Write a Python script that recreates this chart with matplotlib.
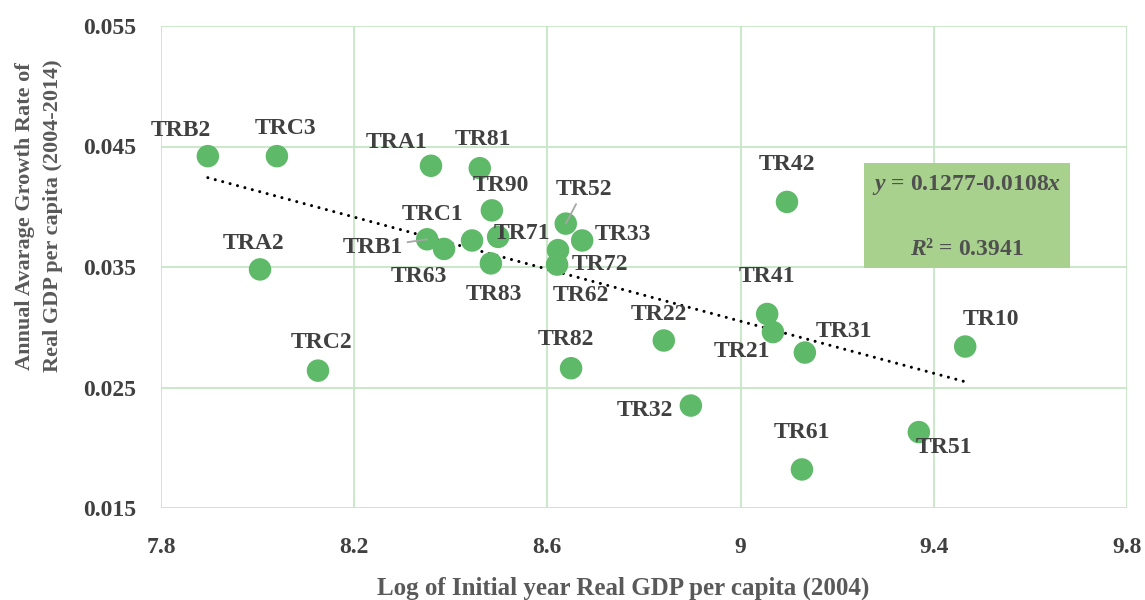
import matplotlib
matplotlib.use('Agg')
import matplotlib.pyplot as plt
from matplotlib.patches import Rectangle

plt.rcParams['font.family'] = 'Liberation Serif'
plt.rcParams['font.weight'] = 'bold'
plt.rcParams['mathtext.fontset'] = 'custom'
plt.rcParams['mathtext.it'] = 'Liberation Serif:bold:italic'
plt.rcParams['mathtext.rm'] = 'Liberation Serif:bold'

# regions, log initial GDP (2004), avg growth 2004-2014
regions = ['TRB2', 'TRC3', 'TRA1', 'TR81', 'TR90', 'TRB1', 'TR63', 'TRC1',
           'TR71', 'TR83', 'TR52', 'TR33', 'TR72', 'TR62', 'TR42', 'TR41',
           'TR21', 'TR31', 'TR10', 'TR82', 'TR22', 'TR32', 'TR61', 'TR51',
           'TRA2', 'TRC2']
log_gdp = [7.897, 8.040, 8.359, 8.460, 8.485, 8.351, 8.386, 8.444,
           8.498, 8.483, 8.638, 8.672, 8.622, 8.620, 9.096, 9.055,
           9.067, 9.133, 9.465, 8.649, 8.841, 8.897, 9.127, 9.369,
           8.005, 8.125]
growth = [0.0442, 0.0442, 0.0434, 0.0432, 0.0397, 0.0373, 0.0365, 0.0372,
          0.0375, 0.0353, 0.0386, 0.0372, 0.0364, 0.0352, 0.0404, 0.0311,
          0.0296, 0.0279, 0.0284, 0.0266, 0.0289, 0.0235, 0.0182, 0.0213,
          0.0348, 0.0264]

# trend line coefficients (as printed on the chart)
intercept = 0.1277
slope = -0.0108
r2 = 0.3941

x_ticks = [7.8, 8.2, 8.6, 9.0, 9.4, 9.8]
x_tick_labels = ['7.8', '8.2', '8.6', '9', '9.4', '9.8']
y_ticks = [0.015, 0.025, 0.035, 0.045, 0.055]
y_tick_labels = ['0.015', '0.025', '0.035', '0.045', '0.055']

# label offsets in pixels (dx right, dy up)
label_off = {
    'TRB2': (-27, 26), 'TRC3': (9, 28), 'TRA1': (-34, 23), 'TR81': (3, 29),
    'TR90': (9, 25), 'TRB1': (-54, -8), 'TR63': (-25, -28), 'TRC1': (-39, 26),
    'TR71': (24, 3), 'TR83': (3, -31), 'TR52': (18, 34), 'TR33': (41, 6),
    'TR72': (42, -14), 'TR62': (24, -31), 'TR42': (0, 37), 'TR41': (0, 37),
    'TR21': (-31, -19), 'TR31': (39, 21), 'TR10': (26, 27), 'TR82': (-5, 29),
    'TR22': (-5, 26), 'TR32': (-46, -5), 'TR61': (0, 37), 'TR51': (25, -15),
    'TRA2': (-7, 26), 'TRC2': (4, 28),
}
leaders = ['TRB1', 'TR52']

txt = '#404040'
grid_c = '#c6e6c6'
dot_c = '#5eb968'

fig = plt.figure(figsize=(11.45, 6), dpi=100)
ax = fig.add_axes([161 / 1145, 1 - 508 / 600, 966 / 1145, 482 / 600])

ax.set_xlim(7.8, 9.8)
ax.set_ylim(0.015, 0.055)
ax.set_xticks(x_ticks, x_tick_labels)
ax.set_yticks(y_ticks, y_tick_labels)
ax.grid(True, color=grid_c, lw=1.3)
ax.set_axisbelow(True)
for s in ax.spines.values():
    s.set_visible(False)
ax.tick_params(length=0, colors=txt, labelsize=17)
ax.tick_params(axis='x', pad=21)
ax.tick_params(axis='y', pad=18)

# trend line
x0, x1 = min(log_gdp), max(log_gdp)
ax.plot([x0, x1], [intercept + slope * x0, intercept + slope * x1],
        color='black', lw=2.2, linestyle=(0, (0.01, 2.5)),
        dash_capstyle='round', zorder=3)

ax.scatter(log_gdp, growth, s=262, color=dot_c, edgecolors='none', zorder=4)

for name, xv, yv in zip(regions, log_gdp, growth):
    dx, dy = label_off[name]
    kw = {}
    if name in leaders:
        kw['arrowprops'] = dict(arrowstyle='-', color='#a6a6a6', lw=1.3,
                                shrinkA=1, shrinkB=0)
    ax.annotate(name, (xv, yv), xytext=(dx * 0.72, dy * 0.72),
                textcoords='offset points', ha='center', va='center',
                fontsize=17, color=txt, zorder=5, **kw)

# equation box
ax.add_patch(Rectangle((0.728, 0.498), 0.213, 0.218, transform=ax.transAxes,
                       facecolor='#a9d18e', edgecolor='none', zorder=2))
ax.text(0.834, 0.670, '$y$ = %.4f%.4f$x$' % (intercept, slope),
        transform=ax.transAxes, ha='center', va='center', fontsize=17,
        color='#505050', zorder=6)
ax.text(0.834, 0.537, '$R$\u00b2 = %.4f' % r2, transform=ax.transAxes,
        ha='center', va='center', fontsize=17, color='#505050', zorder=6)

fig.text(623 / 1145, 1 - 588 / 600,
         'Log of Initial year Real GDP per capita (2004)',
         ha='center', va='center', fontsize=18, color='#595959')
fig.text(39 / 1145, 1 - 216 / 600,
         'Annual Avarage Growth Rate of\nReal GDP per capita (2004-2014)',
         ha='center', va='center', rotation=90, fontsize=16,
         color='#595959', linespacing=1.5)

fig.savefig('out.png', dpi=100)
